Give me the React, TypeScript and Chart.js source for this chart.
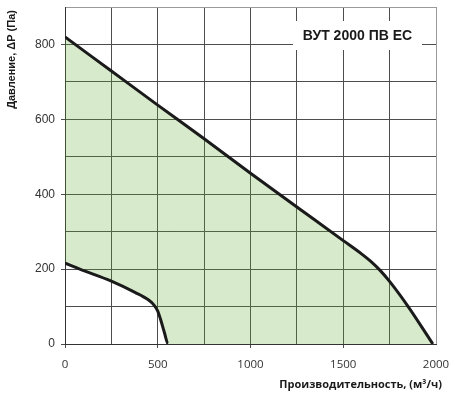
import { useEffect, useRef } from "react"
import { Chart, registerables } from "chart.js"

Chart.register(...registerables)

// curva superior (ventilador a plena potência)
const flowTop = [0, 250, 500, 750, 1000, 1250, 1500, 1600, 1650, 1700, 1755, 1850, 1983]
const pressureTop = [820, 729, 638, 548, 456, 366, 276, 240, 220, 196, 164, 100, 0]

// curva inferior – os dois últimos pontos ficam no eixo, só para o preenchimento
const flowBottom = [0, 80, 250, 377, 449, 480, 500, 515, 535, 556, 1983]
const pressureBottom = [216, 200, 168, 138, 118, 104, 88, 66, 32, 0, 0]
const bottomEnd = 556

const modelName = "ВУТ 2000 ПВ ЕС"
const xTitle = "Производительность, (м³/ч)"
const yTitle = "Давление, ΔP (Па) "

const xTicks = [0, 500, 1000, 1500, 2000]
const yTicks = [0, 200, 400, 600, 800]

const gridColor = "#4d4d4d"
const edgeColor = "#9a9a9a"
const fillGreen = "rgba(99, 171, 51, 0.25)"

const captions = {
  id: "captions",
  afterDatasetsDraw(chart: Chart) {
    const { ctx, chartArea } = chart
    const right = chartArea.right - 14
    const left = right - 129
    const top = chartArea.top + 14
    const h = 29
    ctx.save()
    ctx.fillStyle = "#ffffff"
    ctx.fillRect(left, top, right - left, h)
    ctx.fillStyle = "#1a1a1a"
    ctx.font = "bold 14px 'Liberation Sans', Arial, sans-serif"
    ctx.textAlign = "center"
    ctx.textBaseline = "middle"
    ctx.fillText(modelName, (left + right) / 2, top + h / 2 + 1)

    // подпись оси X
    ctx.font = "bold 11px 'Open Sans', sans-serif"
    ctx.textAlign = "right"
    ctx.fillText(xTitle, chartArea.right + 6, chartArea.bottom + 41)
    ctx.restore()
  },
}

export default function App() {
  const chartRef = useRef<HTMLCanvasElement>(null)
  const chartInstance = useRef<Chart | null>(null)

  useEffect(() => {
    if (!chartRef.current) return
    if (chartInstance.current) chartInstance.current.destroy()

    const ctx = chartRef.current.getContext("2d")
    if (!ctx) return

    chartInstance.current = new Chart(ctx, {
      type: "line",
      data: {
        datasets: [
          {
            data: flowTop.map((x, i) => ({ x, y: pressureTop[i] })),
            borderColor: "#1a1a1a",
            borderWidth: 3,
            pointRadius: 0,
            cubicInterpolationMode: "monotone",
            fill: { target: 1 },
            backgroundColor: fillGreen,
          },
          {
            data: flowBottom.map((x, i) => ({ x, y: pressureBottom[i] })),
            borderColor: "#1a1a1a",
            borderWidth: 3,
            pointRadius: 0,
            cubicInterpolationMode: "monotone",
            fill: false,
            segment: {
              borderColor: (c: any) => (c.p0.parsed.x >= bottomEnd ? "rgba(0,0,0,0)" : undefined),
            },
          },
        ],
      },
      options: {
        responsive: true,
        maintainAspectRatio: false,
        animation: false,
        layout: { padding: 0 },
        plugins: {
          legend: { display: false },
          tooltip: { enabled: false },
          filler: { drawTime: "beforeDatasetsDraw" },
        },
        scales: {
          x: {
            type: "linear",
            min: 0,
            max: 2000,
            afterFit: (scale: any) => {
              scale.height = 58
              scale.paddingLeft = 0
              scale.paddingRight = 13
            },
            ticks: {
              stepSize: 250,
              autoSkip: false,
              maxRotation: 0,
              padding: 10,
              color: "#333",
              font: { family: "'Open Sans', sans-serif", size: 11.5 },
              callback: (v: any) => (xTicks.includes(v) ? String(v) : ""),
            },
            grid: {
              color: (c: any) => (c.tick && c.tick.value === 2000 ? edgeColor : gridColor),
              tickColor: (c: any) => (c.tick && xTicks.includes(c.tick.value) && c.tick.value !== 2000 ? gridColor : "rgba(0,0,0,0)"),
              tickLength: 4,
              lineWidth: 1,
            },
            border: { color: "#333", width: 1 },
          },
          y: {
            type: "linear",
            min: 0,
            max: 900,
            afterFit: (scale: any) => {
              scale.width = 65
              scale.paddingTop = 7
              scale.paddingBottom = 0
            },
            ticks: {
              stepSize: 100,
              autoSkip: false,
              padding: 6,
              color: "#333",
              font: { family: "'Liberation Sans', Arial, sans-serif", size: 12 },
              callback: (v: any) => (yTicks.includes(v) ? String(v) : ""),
            },
            grid: {
              color: (c: any) => (c.tick && c.tick.value === 900 ? edgeColor : gridColor),
              tickColor: (c: any) => (c.tick && yTicks.includes(c.tick.value) ? gridColor : "rgba(0,0,0,0)"),
              tickLength: 4,
              lineWidth: 1,
            },
            border: { color: "#333", width: 1 },
            title: {
              display: true,
              text: yTitle,
              align: "end",
              color: "#1a1a1a",
              font: { family: "'Liberation Sans', Arial, sans-serif", size: 11, weight: "bold" },
              padding: { top: 5, bottom: 0 },
            },
          },
        },
      },
      plugins: [captions],
    })

    return () => {
      if (chartInstance.current) {
        chartInstance.current.destroy()
        chartInstance.current = null
      }
    }
  }, [])

  return (
    <div style={{ position: "fixed", left: 0, top: 0, width: 449, height: 402, background: "#fff" }}>
      <canvas ref={chartRef} />
    </div>
  )
}
